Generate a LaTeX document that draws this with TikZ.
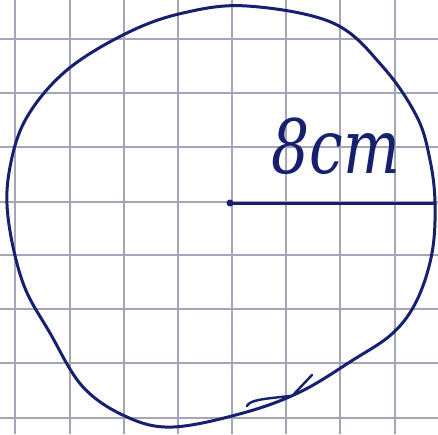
\documentclass[tikz,border=0pt]{standalone}
\usepackage{fontspec}
\setmainfont{DejaVu Serif}
\begin{document}
\begin{tikzpicture}[x=1pt,y=-1pt,
  gridline/.style={draw=gridgray, line width=1.2pt},
  ink/.style={draw=inkblue, line width=3pt, line cap=round, line join=round}]
\definecolor{inkblue}{RGB}{22,32,110}
\definecolor{gridgray}{RGB}{165,165,185}
\fill[white] (0,0) rectangle (438,434);
\useasboundingbox (0,0) rectangle (438,434);
\foreach \x in {15,70,124,178,232,286,340,395} \draw[gridline] (\x,0) -- (\x,434);
\foreach \y in {39,93,147,202,255,309,363,418} \draw[gridline] (0,\y) -- (438,\y);
% circle
\draw[ink] plot[smooth cycle, tension=0.6] coordinates {
 (247,6) (333,23) (383,67) (417,117) (430,160) (435,203) (432,253) (417,300)
 (393,333) (353,360) (300,392) (243,413) (173,427) (127,417) (83,387) (50,333)
 (23,283) (8,217) (10,167) (27,117) (67,70) (127,33) (183,13)};
% overlap marks at bottom
\draw[ink, line width=2.4pt] (247,406) .. controls (250,400) and (262,399) .. (290,396);
\draw[ink, line width=2.4pt] (312,375) -- (294,394);
% radius
\coordinate (c) at (230,203);
\coordinate (r) at (435,203);
\fill[inkblue] (c) circle (3.5pt);
\draw[ink] (c) -- (r);
\node[text=inkblue, font=\itshape, xscale=6, yscale=7.5] (lbl) at (336,146) {8cm};
\end{tikzpicture}
\end{document}
